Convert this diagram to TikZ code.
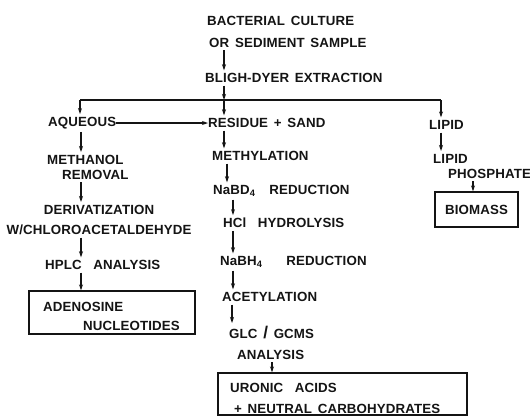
\documentclass[tikz,border=0pt]{standalone}
\usepackage{fontspec}
\setmainfont{Liberation Sans}[WordSpace=1.5, LetterSpace=1]
\usetikzlibrary{arrows.meta, positioning}
\definecolor{InkBlack}{RGB}{20, 20, 20}

\tikzset{
  lbl/.style={anchor=west, inner sep=0pt, outer ysep=3pt, text=InkBlack,
    font=\bfseries\fontsize{13.3}{15}\selectfont},
  flow/.style={draw=InkBlack, line width=1.1pt, -{Stealth[length=6pt, width=4pt]}},
  result/.style={draw=InkBlack, line width=1.3pt, inner sep=0pt}
}
\newcommand{\bigslash}{{\fontsize{17}{15}\selectfont/}}

\begin{document}
\begin{tikzpicture}[x=1pt, y=-1pt]
    \useasboundingbox (0,0) rectangle (530,416);

    % Columns
    \coordinate (colA) at (81,0);
    \coordinate (colB) at (224,0);
    \coordinate (colC) at (441,0);
    \coordinate (colD) at (233,0);

    % Top of the scheme
    \node[lbl, anchor=north west, align=left] (culture) at (207,13)
      {BACTERIAL CULTURE\\[7pt]\hspace{2pt}OR SEDIMENT SAMPLE};
    \node[lbl] (bligh) at (205,78) {BLIGH-DYER EXTRACTION};
    \coordinate (split) at (224,100);
    \coordinate (splitA) at (80,100);
    \coordinate (splitC) at (441,100);

    % Fractions
    \node[lbl] (aqueous) at (48,123) {AQUEOUS};
    \node[lbl] (residue) at (208,123) {RESIDUE + SAND};
    \node[lbl] (lipid) at (429,125) {LIPID};

    % Aqueous branch
    \node[lbl, anchor=north west, align=left] (methanol) at (47,152)
      {METHANOL\\\hspace{15pt}REMOVAL};
    \node[lbl, anchor=north, align=center] (deriv) at (99,202)
      {DERIVATIZATION\\[5pt]W/CHLOROACETALDEHYDE};
    \node[lbl] (hplc) at (45,265) {HPLC\ \ ANALYSIS};
    \node[result, minimum width=166pt, minimum height=43pt] (adenbox) at (112,312.5) {};
    \node[lbl, anchor=north west, align=left] (adenosine) at (43,299)
      {ADENOSINE\\[4pt]\hspace{40pt}NUCLEOTIDES};

    % Residue branch
    \node[lbl] (methyl) at (212,156) {METHYLATION};
    \node[lbl] (nabd) at (213,191) {NaBD\textsubscript{4}\hspace{14pt}REDUCTION};
    \node[lbl] (hcl) at (223,223) {HCl\ \ HYDROLYSIS};
    \node[lbl] (nabh) at (220,262) {NaBH\textsubscript{4}\hspace{24pt}REDUCTION};
    \node[lbl] (acetyl) at (222,297) {ACETYLATION};
    \node[lbl, anchor=north west, align=left] (glc) at (229,323)
      {GLC \bigslash\ GCMS\\[6pt]\hspace{8pt}ANALYSIS};
    \node[result, minimum width=249pt, minimum height=42pt] (uronbox) at (342.5,394) {};
    \node[lbl, anchor=north west, align=left] (uronic) at (230,380)
      {URONIC\ \ ACIDS\\[6pt]\hspace{4pt}+ NEUTRAL CARBOHYDRATES};

    % Lipid branch
    \node[lbl, anchor=north west, align=left] (lipidp) at (433,151)
      {LIPID\\\hspace{15pt}PHOSPHATE};
    \node[result, minimum width=83pt, minimum height=35pt] (biobox) at (476.5,209.5) {};
    \node[lbl, anchor=center] (biomass) at (476.5,210) {BIOMASS};

    % Connectors
    \draw[flow] (culture.south -| colB) -- (bligh.north -| colB);
    \draw[flow] (bligh.south -| colB) -- (split);
    \draw[InkBlack, line width=1.3pt] (splitA) -- (splitC);
    \draw[flow] (splitA) -- (aqueous.north -| splitA);
    \draw[flow] (split) -- (residue.north -| colB);
    \draw[flow] (splitC) -- (lipid.north -| colC);
    \draw[flow] (aqueous.east) -- (residue.west);

    \draw[flow] (aqueous.south -| colA) -- (methanol.north -| colA);
    \draw[flow] (methanol.south -| colA) -- (deriv.north -| colA);
    \draw[flow] (deriv.south -| colA) -- (hplc.north -| colA);
    \draw[flow] (hplc.south -| colA) -- (adenbox.north -| colA);

    \draw[flow] (residue.south -| colB) -- (methyl.north -| colB);
    \draw[flow] ([xshift=3pt]methyl.south -| colB) -- ([xshift=3pt]nabd.north -| colB);
    \draw[flow] (nabd.south -| colD) -- (hcl.north -| colD);
    \draw[flow] (hcl.south -| colD) -- (nabh.north -| colD);
    \draw[flow] (nabh.south -| colD) -- (acetyl.north -| colD);
    \draw[flow] ([xshift=-1pt]acetyl.south -| colD) -- ([xshift=-1pt]glc.north -| colD);
    \draw[flow] (glc.south -| 272,0) -- (uronbox.north -| 272,0);

    \draw[flow] (lipid.south -| colC) -- (lipidp.north -| colC);
    \draw[flow] (lipidp.south -| 473,0) -- (biobox.north -| 473,0);
  \end{tikzpicture}
\end{document}
